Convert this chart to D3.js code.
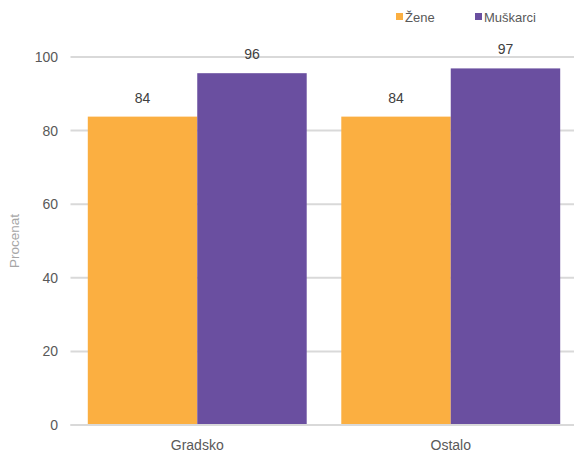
<!DOCTYPE html>
<html>
<head>
<meta charset="utf-8">
<script src="https://cdn.jsdelivr.net/npm/d3@7"></script>
<style>
  body { margin: 0; background: #fff; }
  text { font-family: "Liberation Sans", Arial, sans-serif; }
</style>
</head>
<body>
<svg width="574" height="455"></svg>
<script>
var categories = ["Gradsko", "Ostalo"];
var seriesNames = ["Žene", "Muškarci"];
var zene = [83.8, 83.8];
var muskarci = [95.6, 96.9];
var yTicks = [0, 20, 40, 60, 80, 100];
var colors = ["#fbaf41", "#6a4fa0"];

function init () {
  var svg = d3.select("svg");
  var left = 70.5, right = 577.5, top = 57, bottom = 425;

  var xScale = d3.scaleBand()
    .domain(categories)
    .range([left, right])
    .paddingInner(0)
    .paddingOuter(0);

  var inner = d3.scaleBand()
    .domain(seriesNames)
    .range([0, xScale.bandwidth()])
    .paddingOuter(0.158)
    .paddingInner(0);

  var yScale = d3.scaleLinear()
    .domain([0, 100])
    .range([bottom, top]);

  // gridlines
  svg.append("g")
    .selectAll("line")
    .data(yTicks)
    .enter()
    .append("line")
    .attr("x1", left)
    .attr("x2", 574)
    .attr("y1", function(d) { return yScale(d); })
    .attr("y2", function(d) { return yScale(d); })
    .attr("stroke", "#d9d9d9")
    .attr("stroke-width", 2);

  // y axis labels
  var yAxis = d3.axisLeft(yScale).tickValues(yTicks).tickSize(0).tickPadding(0);
  var gy = svg.append("g")
    .attr("transform", "translate(58,0)")
    .call(yAxis);
  gy.select(".domain").remove();
  gy.selectAll("text")
    .attr("font-size", 14)
    .attr("fill", "#595959")
    .attr("font-family", "Liberation Sans, Arial, sans-serif");

  svg.append("text")
    .attr("transform", "translate(19,241) rotate(-90)")
    .attr("text-anchor", "middle")
    .attr("font-size", 13.5)
    .attr("fill", "#a6a6a6")
    .text("Procenat");

  var rows = categories.map(function(c, i) {
    return [{ cat: c, s: seriesNames[0], v: zene[i] }, { cat: c, s: seriesNames[1], v: muskarci[i] }];
  });

  var groups = svg.append("g")
    .selectAll("g")
    .data(rows)
    .enter()
    .append("g")
    .attr("transform", function(d, i) { return "translate(" + xScale(categories[i]) + ",0)"; });

  groups.selectAll("rect")
    .data(function(d) { return d; })
    .enter()
    .append("rect")
    .attr("x", function(d) { return inner(d.s); })
    .attr("y", function(d) { return yScale(d.v); })
    .attr("width", inner.bandwidth())
    .attr("height", function(d) { return yScale(0) - yScale(d.v); })
    .attr("fill", function(d, i) { return colors[i]; });

  groups.selectAll("text")
    .data(function(d) { return d; })
    .enter()
    .append("text")
    .attr("x", function(d) { return inner(d.s) + inner.bandwidth() / 2; })
    .attr("y", function(d) { return yScale(d.v) - 14; })
    .attr("text-anchor", "middle")
    .attr("font-size", 14)
    .attr("fill", "#404040")
    .text(function(d) { return d3.format(".0f")(d.v); });

  // x axis
  svg.append("line")
    .attr("x1", left)
    .attr("x2", 574)
    .attr("y1", bottom)
    .attr("y2", bottom)
    .attr("stroke", "#d9d9d9")
    .attr("stroke-width", 2);

  svg.append("g")
    .selectAll("text")
    .data(categories)
    .enter()
    .append("text")
    .attr("x", function(d) { return xScale(d) + xScale.bandwidth() / 2; })
    .attr("y", 450)
    .attr("text-anchor", "middle")
    .attr("font-size", 14)
    .attr("fill", "#595959")
    .text(function(d) { return d; });

  // legend
  var legendX = [396, 475];
  var legend = svg.append("g")
    .selectAll("g")
    .data(seriesNames)
    .enter()
    .append("g")
    .attr("transform", function(d, i) { return "translate(" + legendX[i] + ",13)"; });
  legend.append("rect")
    .attr("width", 7)
    .attr("height", 7)
    .attr("fill", function(d, i) { return colors[i]; });
  legend.append("text")
    .attr("x", 9)
    .attr("y", 9)
    .attr("font-size", 13)
    .attr("fill", "#595959")
    .text(function(d) { return d; });
}

window.onload = init;
</script>
</body>
</html>
